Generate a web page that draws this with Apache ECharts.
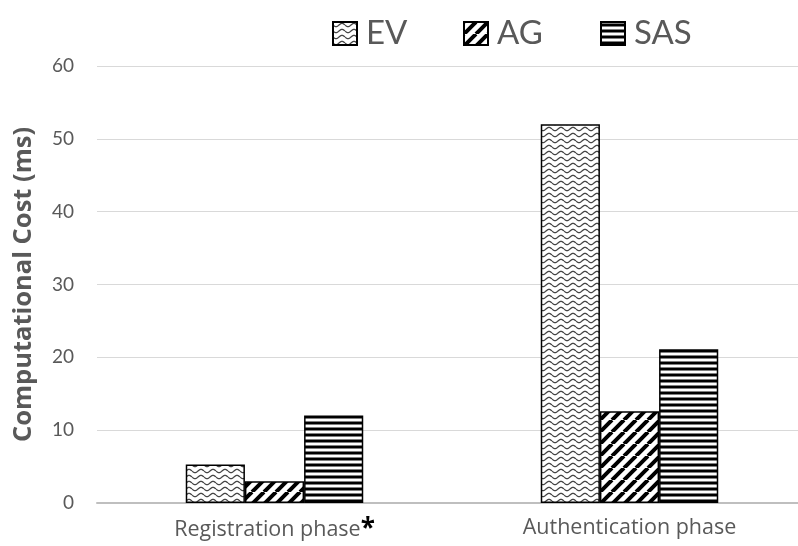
<!DOCTYPE html>
<html>
<head>
<meta charset="utf-8">
<script src="https://cdn.jsdelivr.net/npm/echarts@6/dist/echarts.min.js"></script>
<style>
  html, body { margin: 0; padding: 0; background: #fff; overflow: hidden; }
  #chart { width: 798px; height: 546px; }
</style>
</head>
<body>
<div id="chart"></div>
<script>
// Phases on the x axis
const categories = ['Registration phase*', 'Authentication phase'];
// Computational cost (ms) per scheme
const evValues = [5.3, 52.0];
const agValues = [3.0, 12.6];
const sasValues = [12.0, 21.1];
const seriesNames = ['EV', 'AG', 'SAS'];
const yTicks = { min: 0, max: 60, interval: 10 };

const FONT = 'Lato';
const LABEL_FONT = 'Open Sans';

// Fill patterns drawn on small canvases
function wavePattern() {
  const c = document.createElement('canvas');
  c.width = 12; c.height = 6;
  const g = c.getContext('2d');
  g.fillStyle = '#fff'; g.fillRect(0, 0, 12, 6);
  g.strokeStyle = '#444'; g.lineWidth = 1.3;
  g.beginPath();
  for (let x = 0; x <= 12; x += 0.5) {
    const y = 3 + 1.6 * Math.sin((x / 12) * Math.PI * 2);
    if (x === 0) g.moveTo(x, y); else g.lineTo(x, y);
  }
  g.stroke();
  return c;
}
function diagPattern() {
  const c = document.createElement('canvas');
  const s = 12;
  c.width = s; c.height = s;
  const g = c.getContext('2d');
  g.fillStyle = '#fff'; g.fillRect(0, 0, s, s);
  g.strokeStyle = '#000'; g.lineWidth = 4;
  g.beginPath();
  for (let k = -1; k <= 1; k++) {
    g.moveTo(k * s, s);
    g.lineTo(k * s + s, 0);
  }
  g.stroke();
  return c;
}
function hStripePattern() {
  const c = document.createElement('canvas');
  c.width = 6; c.height = 6;
  const g = c.getContext('2d');
  g.fillStyle = '#fff'; g.fillRect(0, 0, 6, 6);
  g.fillStyle = '#000'; g.fillRect(0, 1.5, 6, 3);
  return c;
}

const fills = [wavePattern(), diagPattern(), hStripePattern()];
const values = [evValues, agValues, sasValues];
// left edge of each legend entry
const legendLefts = [332, 463, 600];

const chart = echarts.init(document.getElementById('chart'), null, { renderer: 'canvas' });

chart.setOption({
  animation: false,
  textStyle: { fontFamily: FONT },
  legend: seriesNames.map((name, i) => ({
    left: legendLefts[i],
    top: 17,
    padding: 0,
    itemWidth: 24,
    itemHeight: 23,
    icon: 'rect',
    textStyle: { fontSize: 33, color: '#595959', fontFamily: FONT, padding: [0, 0, 0, 4] },
    data: [name]
  })),
  // the plot area runs slightly past the right edge of the canvas
  grid: { left: 97, right: -9, top: 66, bottom: 43, outerBoundsMode: 'none', containLabel: false },
  xAxis: {
    type: 'category',
    data: categories,
    axisTick: { show: false },
    axisLine: { lineStyle: { color: '#bfbfbf', width: 2 } },
    axisLabel: {
      margin: 14,
      formatter: function (v) {
        if (v.endsWith('*')) return '{t|' + v.slice(0, -1) + '}{s|*}';
        return '{t|' + v + '}';
      },
      rich: {
        t: { fontSize: 21.5, color: '#595959', fontFamily: LABEL_FONT },
        s: { fontSize: 26, color: '#000', fontFamily: LABEL_FONT, fontWeight: 'bold', verticalAlign: 'top' }
      }
    }
  },
  yAxis: {
    type: 'value',
    min: yTicks.min,
    max: yTicks.max,
    interval: yTicks.interval,
    name: 'Computational Cost (ms)',
    nameLocation: 'middle',
    nameGap: 60,
    nameTextStyle: { fontSize: 25.5, fontWeight: 'bold', color: '#595959', fontFamily: LABEL_FONT },
    axisLabel: { fontSize: 19, color: '#595959', margin: 23, fontFamily: FONT },
    splitLine: { lineStyle: { color: '#d9d9d9', width: 1 } },
    axisLine: { show: false },
    axisTick: { show: false }
  },
  series: seriesNames.map((name, i) => ({
    name: name,
    type: 'bar',
    data: values[i],
    barGap: '0%',
    barCategoryGap: '50%',
    itemStyle: {
      color: { image: fills[i], repeat: 'repeat' },
      borderColor: '#000',
      borderWidth: 1.5
    }
  }))
});
</script>
</body>
</html>
